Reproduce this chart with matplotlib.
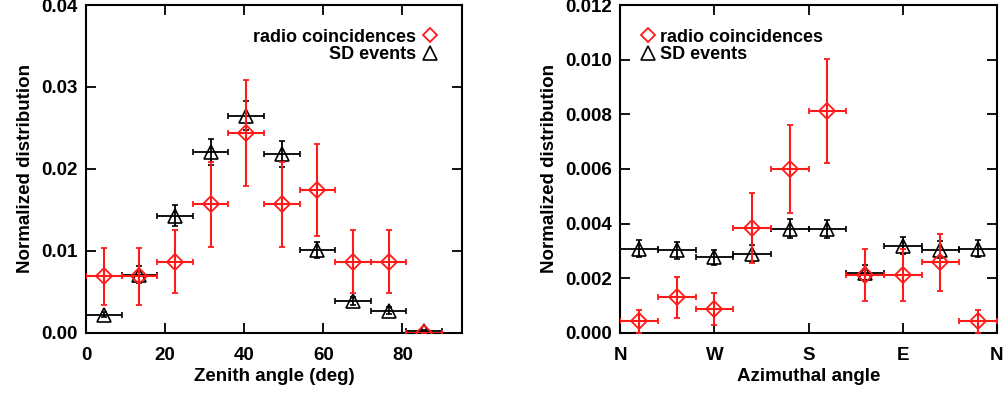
import numpy as np
import matplotlib
matplotlib.use("Agg")
import matplotlib.pyplot as plt
from matplotlib.lines import Line2D

plt.rcParams['font.family'] = ['Liberation Sans Narrow', 'Liberation Sans', 'DejaVu Sans']
plt.rcParams['font.weight'] = 'bold'

#####################################################################
#                      DATA                      #
#####################################################################
### zenith angle, 10 bins of 9 deg
zen_centers = [4.5, 13.5, 22.5, 31.5, 40.5, 49.5, 58.5, 67.5, 76.5, 85.5]
zen_radio = [0.0069, 0.0069, 0.0087, 0.0157, 0.0244, 0.0157, 0.01745, 0.0087, 0.0087, 0.0]
zen_radio_err = [0.0035, 0.0035, 0.0039, 0.0052, 0.0065, 0.0052, 0.0056, 0.0039, 0.0039, 0.0]
zen_sd = [0.0022, 0.0071, 0.0143, 0.0221, 0.0265, 0.0218, 0.0101, 0.0039, 0.0027, 0.0002]
zen_sd_err = [0.0003, 0.0010, 0.0013, 0.0016, 0.0018, 0.0016, 0.0010, 0.0005, 0.0004, 0.0001]

### azimuthal angle, 10 bins of 36 deg
azi_centers = [18, 54, 90, 126, 162, 198, 234, 270, 306, 342]
azi_radio = [0.00042, 0.0013, 0.00087, 0.00385, 0.0060, 0.00813, 0.00213, 0.00213, 0.00258, 0.00042]
azi_radio_err = [0.00042, 0.00075, 0.0006, 0.00128, 0.0016, 0.0019, 0.00095, 0.00095, 0.00105, 0.00042]
azi_sd = [0.00308, 0.00302, 0.00277, 0.0029, 0.00381, 0.00379, 0.0022, 0.00318, 0.00305, 0.00308]
azi_sd_err = [0.0003, 0.0003, 0.00028, 0.0003, 0.00034, 0.00033, 0.00028, 0.00031, 0.00032, 0.0003]
azi_ticks = [0, 90, 180, 270, 360]
azi_labels = ['N', 'W', 'S', 'E', 'N']

red = '#ff1a1a'
fs = 13.5

fig = plt.figure(figsize=(10.06, 4.01), dpi=100)
ax1 = fig.add_axes([0.0855, 0.170, 0.3735, 0.8175])
ax2 = fig.add_axes([0.6165, 0.170, 0.3745, 0.8175])

def draw(ax, x, xerr, radio, radio_err, sd, sd_err):
    ax.errorbar(x, sd, xerr=xerr, yerr=sd_err, fmt='^', mfc='none', mec='black', ms=10,
                mew=1.2, ecolor='black', elinewidth=1.3, capsize=2.5, capthick=1.3, zorder=3)
    ax.errorbar(x, radio, xerr=xerr, yerr=radio_err, fmt='D', mfc='none', mec=red, ms=8,
                mew=1.3, ecolor=red, elinewidth=1.5, capsize=2.5, capthick=1.5, zorder=4)
    for s in ax.spines.values():
        s.set_linewidth(1.5)
    ax.tick_params(direction='in', length=7, width=1.3, top=True, right=True,
                   labelsize=fs)
    ax.tick_params(axis='x', pad=10)
    ax.tick_params(axis='y', pad=6)

### zenith panel
draw(ax1, zen_centers, 4.5, zen_radio, zen_radio_err, zen_sd, zen_sd_err)
ax1.set_xlim(0, 95)
ax1.set_ylim(0, 0.04)
ax1.set_xticks([0, 20, 40, 60, 80])
ax1.set_yticks([0.0, 0.01, 0.02, 0.03, 0.04])
ax1.set_yticklabels(['0.00', '0.01', '0.02', '0.03', '0.04'], fontweight='bold')
ax1.set_xticklabels(['0', '20', '40', '60', '80'], fontweight='bold')
ax1.set_xlabel('Zenith angle (deg)', fontsize=fs, fontweight='bold', labelpad=3)
ax1.set_ylabel('Normalized distribution', fontsize=fs, fontweight='bold', labelpad=5)

### azimuth panel
draw(ax2, azi_centers, 18, azi_radio, azi_radio_err, azi_sd, azi_sd_err)
ax2.set_xlim(0, 360)
ax2.set_ylim(0, 0.012)
ax2.set_xticks(azi_ticks)
ax2.set_xticklabels(azi_labels, fontweight='bold')
ax2.set_yticks([0.0, 0.002, 0.004, 0.006, 0.008, 0.010, 0.012])
ax2.set_yticklabels(['0.000', '0.002', '0.004', '0.006', '0.008', '0.010', '0.012'], fontweight='bold')
ax2.set_xlabel('Azimuthal angle', fontsize=fs, fontweight='bold', labelpad=3)
ax2.set_ylabel('Normalized distribution', fontsize=fs, fontweight='bold', labelpad=5)

### legends
handles = [Line2D([], [], ls='none', marker='D', mfc='none', mec=red, ms=7, mew=1.3),
           Line2D([], [], ls='none', marker='^', mfc='none', mec='black', ms=10, mew=1.2)]
names = ['radio coincidences', 'SD events']
leg_font = {'size': 13, 'weight': 'bold'}
ax1.legend(handles, names, loc='upper right', bbox_to_anchor=(0.96, 0.955), frameon=False,
           markerfirst=False, prop=leg_font, handlelength=0.8, handletextpad=0.4,
           labelspacing=0.02, borderpad=0)
ax2.legend(handles, names, loc='upper left', bbox_to_anchor=(0.03, 0.955), frameon=False,
           prop=leg_font, handlelength=0.8, handletextpad=0.3,
           labelspacing=0.02, borderpad=0)

plt.savefig('out.png', dpi=100)
